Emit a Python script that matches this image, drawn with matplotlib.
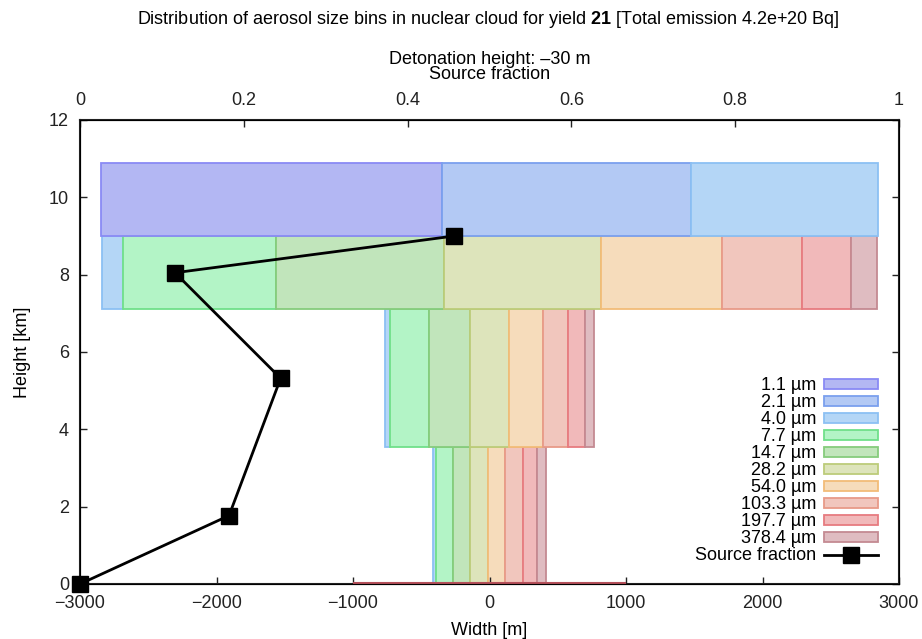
import matplotlib
matplotlib.use("Agg")
import matplotlib.pyplot as plt
from matplotlib.patches import Patch
from matplotlib.lines import Line2D

plt.rcParams['font.family'] = ['Liberation Sans', 'DejaVu Sans']
plt.rcParams['mathtext.fontset'] = 'custom'
plt.rcParams['mathtext.rm'] = 'Liberation Sans'
plt.rcParams['mathtext.bf'] = 'Liberation Sans:bold'

# size bins (um) and cloud layers (km)
bins = ['1.1', '2.1', '4.0', '7.7', '14.7', '28.2', '54.0', '103.3', '197.7', '378.4']
layer_bottom = [0.0, 3.55, 7.1, 9.0]
layer_top = [3.55, 7.1, 9.0, 10.9]

# width [m] of every size bin in each layer, bottom to top
widths = [
    [0, 0, 22, 125, 124, 132, 125, 125, 103, 66],
    [0, 0, 37, 286, 300, 286, 249, 183, 125, 66],
    [0, 0, 154, 1121, 1231, 1150, 886, 593, 359, 190],
    [2498, 1824, 1363, 0, 0, 0, 0, 0, 0, 0],
]

# ground layer
ground_width = 2000

# source fraction per height
frac_height = [0.0, 1.77, 5.32, 8.05, 9.0]
frac_value = [0.0, 0.182, 0.245, 0.116, 0.457]

face = ['#b3b7f3', '#b3c9f4', '#b4d6f6', '#b3f4c6', '#c1e5bb',
        '#dde4bb', '#f6dcbb', '#f1c6bd', '#f1b9ba', '#dfbcc1']
edge = ['#8a8af5', '#7ba0ee', '#8cc0f3', '#70e08a', '#86cc7c',
        '#bccc7a', '#f2bc78', '#e89a88', '#e77b80', '#c48a92']

fs = 13
fig = plt.figure(figsize=(9.22, 6.39), dpi=100)
ax = fig.add_axes([80 / 922, 55 / 639, 819 / 922, 464 / 639])

for k in range(len(layer_bottom)):
    row = widths[k]
    left = -sum(row) / 2.0
    h = layer_top[k] - layer_bottom[k]
    for i, w in enumerate(row):
        if w > 0:
            ax.barh(layer_bottom[k], w, height=h, left=left, align='edge',
                    facecolor=face[i], edgecolor=edge[i], linewidth=1.3)
        left += w

ax.barh(0.03, ground_width, height=0.0, left=-ground_width / 2, align='edge',
        facecolor='none', edgecolor='#b5505a', linewidth=1.5, zorder=3, clip_on=False)

ax.set_xlim(-3000, 3000)
ax.set_ylim(0, 12)
ax.set_xticks(range(-3000, 3001, 1000))
ax.set_yticks(range(0, 13, 2))
ax.tick_params(direction='in', length=5, width=1, labelsize=fs, colors='#222222',
               right=True)
ax.tick_params(axis='x', pad=8)
ax.tick_params(axis='y', pad=8)
ax.set_xlabel('Width [m]', fontsize=fs, labelpad=7)
ax.set_ylabel('Height [km]', fontsize=fs, labelpad=13)
for s in ax.spines.values():
    s.set_linewidth(1.5)
    s.set_color('#222222')

ax2 = ax.twiny()
ax2.set_xlim(0, 1)
ax2.set_xticks([0, 0.2, 0.4, 0.6, 0.8, 1])
ax2.set_xticklabels(['0', '0.2', '0.4', '0.6', '0.8', '1'])
ax2.tick_params(direction='in', length=5, width=1, labelsize=fs, colors='#222222', pad=8)
ax2.set_xlabel('Detonation height: –30 m\nSource fraction', fontsize=fs, labelpad=9,
               linespacing=0.85)
ax2.plot(frac_value, frac_height, color='black', linewidth=2, marker='s',
         markersize=11, clip_on=False)

fig.text(0.53, 1 - 20 / 639,
         r'Distribution of aerosol size bins in nuclear cloud for yield $\mathbf{21}$ [Total emission 4.2e+20 Bq]',
         ha='center', va='center', fontsize=fs)

handles = [Patch(facecolor=face[i], edgecolor=edge[i], linewidth=1.3) for i in range(len(bins))]
handles.append(Line2D([], [], color='black', linewidth=2, marker='s', markersize=11))
labels = [b + ' µm' for b in bins] + ['Source fraction']
ax.legend(handles, labels, loc='lower right', frameon=False, markerfirst=False,
          fontsize=fs, handlelength=3.0, handleheight=0.45, labelspacing=0.0,
          handletextpad=0.45, borderaxespad=0.3, bbox_to_anchor=(0.99, 0.015))

fig.savefig('out.png', dpi=100)
